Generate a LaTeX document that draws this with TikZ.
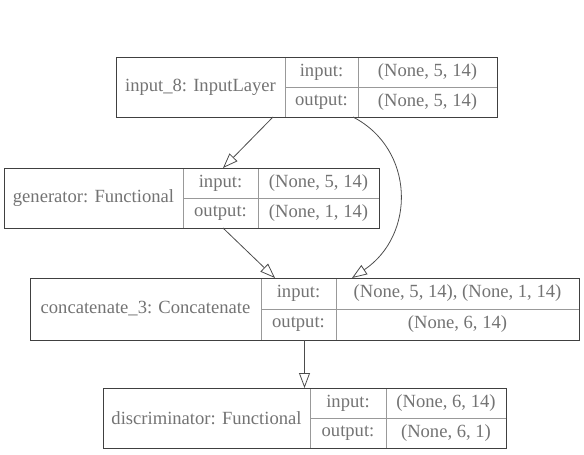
\documentclass[tikz,border=0pt]{standalone}
\usepackage{fontspec}
\setmainfont{Liberation Serif}
\usetikzlibrary{arrows.meta,calc}

\newdimen\px
\px=0.5pt

\tikzset{
	cell/.style={draw=black!40, inner sep=0pt, outer sep=0pt, anchor=north west, text=black!55, font=\fontsize{9.3}{11}\selectfont},
	frame/.style={draw=black!75, inner sep=0pt, outer sep=0pt, anchor=north west},
	link/.style={draw=black!70, -{Triangle[open, length=7.5pt, width=5.5pt]}}
}

\begin{document}
\begin{tikzpicture}[x=0.5pt, y=-0.5pt]
	\useasboundingbox (0,0) rectangle (584,455);
	% input layer
	\draw (116,57) node[cell, minimum width=169\px, minimum height=60\px](inplbl) {input\_8: InputLayer};
	\draw (285,57) node[cell, minimum width=73\px, minimum height=30\px](inpin) {input:};
	\draw (285,87) node[cell, minimum width=73\px, minimum height=30\px](inpout) {output:};
	\draw (358,57) node[cell, minimum width=139\px, minimum height=30\px](inpinval) {(None, 5, 14)};
	\draw (358,87) node[cell, minimum width=139\px, minimum height=30\px](inpoutval) {(None, 5, 14)};
	\draw (116,57) node[frame, minimum width=381\px, minimum height=60\px](inp) {};
	% generator
	\draw (4,168) node[cell, minimum width=179\px, minimum height=60\px](genlbl) {generator: Functional};
	\draw (183,168) node[cell, minimum width=75\px, minimum height=30\px](genin) {input:};
	\draw (183,198) node[cell, minimum width=75\px, minimum height=30\px](genout) {output:};
	\draw (258,168) node[cell, minimum width=121\px, minimum height=30\px](geninval) {(None, 5, 14)};
	\draw (258,198) node[cell, minimum width=121\px, minimum height=30\px](genoutval) {(None, 1, 14)};
	\draw (4,168) node[frame, minimum width=375\px, minimum height=60\px](gen) {};
	% concatenate
	\draw (30,278) node[cell, minimum width=231\px, minimum height=62\px](catlbl) {concatenate\_3: Concatenate};
	\draw (261,278) node[cell, minimum width=75\px, minimum height=31\px](catin) {input:};
	\draw (261,309) node[cell, minimum width=75\px, minimum height=31\px](catout) {output:};
	\draw (336,278) node[cell, minimum width=243\px, minimum height=31\px](catinval) {(None, 5, 14), (None, 1, 14)};
	\draw (336,309) node[cell, minimum width=243\px, minimum height=31\px](catoutval) {(None, 6, 14)};
	\draw (30,278) node[frame, minimum width=549\px, minimum height=62\px](cat) {};
	% discriminator
	\draw (103,388) node[cell, minimum width=207\px, minimum height=60\px](disclbl) {discriminator: Functional};
	\draw (310,388) node[cell, minimum width=76\px, minimum height=30\px](discin) {input:};
	\draw (310,418) node[cell, minimum width=76\px, minimum height=30\px](discout) {output:};
	\draw (386,388) node[cell, minimum width=120\px, minimum height=30\px](discinval) {(None, 6, 14)};
	\draw (386,418) node[cell, minimum width=120\px, minimum height=30\px](discoutval) {(None, 6, 1)};
	\draw (103,388) node[frame, minimum width=403\px, minimum height=60\px](disc) {};
	% links
	\draw[link] ($(inp.south)+(-33.5,0)$) -- ($(gen.north)+(31.5,0)$);
	\draw[link] ($(inp.south)+(46.5,0)$) .. controls ($(inp.south)+(108.5,32)$) and ($(cat.north)+(111.5,-43)$) .. ($(cat.north)+(47.5,0)$);
	\draw[link] ($(gen.south)+(31.5,0)$) -- ($(cat.north)+(-29.5,0)$);
	\draw[link] (cat.south) -- (disc.north);
\end{tikzpicture}
\end{document}
